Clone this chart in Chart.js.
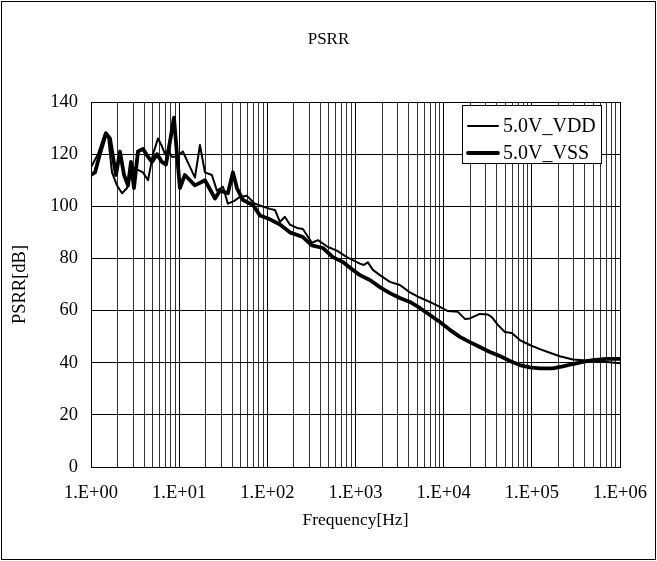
<!DOCTYPE html>
<html>
<head>
<meta charset="utf-8">
<script src="https://cdn.jsdelivr.net/npm/chart.js@4"></script>
<style>
  body { margin: 0; background: #fff; }
</style>
</head>
<body>
<canvas id="psrr" width="657" height="561"></canvas>
<script>
// values
const vddFreq = [1, 1.2, 1.44, 1.56, 1.73, 1.97, 2.25, 2.56, 2.99, 3.41, 3.89, 4.43, 5.05, 5.75, 6.38, 6.9, 7.46, 8.28, 9.44, 11.0,
  13.3, 15.1, 17.2, 19.6, 23.5, 26.8, 31.4, 35.7, 41.8, 48.9, 58.7, 72.3, 86.9, 107, 122, 139, 158, 180, 217, 253,
  320, 375, 487, 615, 799, 1037, 1122, 1245, 1382, 1575, 1891, 2455, 3186, 4140, 5370, 6980, 9060, 11160, 14490, 17400,
  19820, 25720, 31700, 35180, 41170, 49410, 59310, 73120, 94900, 123300, 160000, 207600, 291600, 454600, 708000, 1000000];
const vddDb = [115, 120, 128, 127, 113, 108, 105, 107, 115, 114, 113, 110, 120, 126, 123, 120, 121.5, 119, 119, 121,
  115, 111, 123.5, 113, 112, 106, 107.5, 101, 102, 103.6, 104, 101, 100, 99, 98.6, 94, 96, 93, 91.7, 91.3,
  86, 87, 84.4, 83, 80.5, 78.6, 78, 77.5, 78.5, 75.6, 73.6, 71, 69.8, 67, 65, 63.3, 61.4, 59.8, 59.5, 56.8,
  57, 58.7, 58.5, 57.5, 54.5, 51.8, 51.4, 48.7, 46.8, 45.2, 43.8, 42.5, 41.2, 40.8, 40.3, 39.8];

const vssFreq = [1, 1.11, 1.26, 1.48, 1.64, 1.92, 2.13, 2.37, 2.63, 2.84, 3.07, 3.41, 3.89, 4.43, 4.92, 5.6, 6.38, 7.08, 8.07, 8.73,
  9.44, 10.2, 11.6, 15.1, 19.6, 25.5, 29.0, 35.7, 40.7, 45.2, 52.9, 68.7, 82.4, 107, 139, 180, 253, 320, 427, 554,
  719, 935, 1122, 1456, 1891, 2455, 3186, 4140, 5370, 6980, 9060, 11760, 15280, 19820, 25720, 33420, 43370, 56330, 73120, 94900,
  123300, 173000, 224400, 291600, 378400, 491800, 708000, 1000000];
const vssDb = [112, 113, 120, 128, 126, 112, 121, 112, 108, 117, 107, 121, 122, 119, 117, 120, 117, 116, 127, 134,
  120, 107, 112, 108, 110, 103, 106, 105, 113, 107, 102.4, 100.5, 96.5, 95, 93, 90, 88.2, 85, 84, 80.5,
  78.6, 75.6, 73.6, 71.7, 69, 66.7, 64.8, 63.3, 61, 58.3, 55.6, 52.6, 49.9, 47.9, 46, 44.1, 42.6, 40.7, 39.1, 38.2,
  37.8, 37.8, 38.6, 39.5, 40.3, 41, 41.5, 41.5];

const seriesNames = ['5.0V_VDD', '5.0V_VSS'];
const xTickLabels = ['1.E+00', '1.E+01', '1.E+02', '1.E+03', '1.E+04', '1.E+05', '1.E+06'];
const yTicks = [0, 20, 40, 60, 80, 100, 120, 140];

const SERIF = '"Liberation Serif", "Times New Roman", serif';
const tickFont = { family: SERIF, size: 18.5 };

const toPoints = (xs, ys) => xs.map((x, i) => ({ x: x, y: ys[i] }));

// every 1..9 x 10^n for the log grid
const logTicks = [];
for (let e = 0; e < xTickLabels.length - 1; e++) {
  for (let m = 1; m <= 9; m++) logTicks.push({ value: m * Math.pow(10, e) });
}
logTicks.push({ value: Math.pow(10, xTickLabels.length - 1) });

const isDecade = v => Math.abs(Math.log10(v) - Math.round(Math.log10(v))) < 1e-9;

// outer frame
const framePlugin = {
  id: 'frame',
  beforeDraw(chart) {
    const ctx = chart.ctx;
    ctx.save();
    ctx.fillStyle = '#fff';
    ctx.fillRect(0, 0, chart.width, chart.height);
    ctx.strokeStyle = '#000';
    ctx.lineWidth = 1;
    ctx.strokeRect(1.5, 1.5, chart.width - 3, chart.height - 3);
    ctx.restore();
  }
};

// legend box inside the plot, like the original
const boxLegend = {
  id: 'boxLegend',
  afterDatasetsDraw(chart) {
    const ctx = chart.ctx;
    const area = chart.chartArea;
    const w = 139, h = 58;
    const left = area.right - 19 - w;
    const top = area.top + 3;
    ctx.save();
    ctx.fillStyle = '#fff';
    ctx.fillRect(left, top, w, h);
    ctx.strokeStyle = '#000';
    ctx.lineWidth = 1;
    ctx.strokeRect(Math.round(left) + 0.5, Math.round(top) + 0.5, w, h);
    ctx.font = '20px ' + SERIF;
    ctx.textBaseline = 'middle';
    ctx.fillStyle = '#000';
    chart.data.datasets.forEach((ds, i) => {
      const y = top + 21 + i * 27;
      ctx.strokeStyle = ds.borderColor;
      ctx.lineWidth = ds.borderWidth;
      ctx.lineCap = 'round';
      ctx.beginPath();
      ctx.moveTo(left + 6, y);
      ctx.lineTo(left + 36, y);
      ctx.stroke();
      ctx.fillText(ds.label, left + 41, y + 1);
    });
    ctx.restore();
  }
};

new Chart(document.getElementById('psrr'), {
  type: 'line',
  data: {
    datasets: [
      {
        label: seriesNames[0],
        data: toPoints(vddFreq, vddDb),
        borderColor: '#000',
        borderWidth: 2,
        borderJoinStyle: 'round',
        pointRadius: 0,
        tension: 0,
      },
      {
        label: seriesNames[1],
        data: toPoints(vssFreq, vssDb),
        borderColor: '#000',
        borderWidth: 3.8,
        borderJoinStyle: 'round',
        pointRadius: 0,
        tension: 0,
      },
    ],
  },
  options: {
    responsive: false,
    animation: false,
    layout: { padding: 0 },
    plugins: {
      legend: { display: false },
      tooltip: { enabled: false },
      title: {
        display: true,
        text: 'PSRR',
        color: '#000',
        font: { family: SERIF, size: 17, weight: 'normal' },
        padding: { top: 29.8, bottom: 51.8 },
      },
    },
    scales: {
      x: {
        type: 'logarithmic',
        min: 1,
        max: 1e6,
        afterBuildTicks: axis => { axis.ticks = logTicks.map(t => ({ value: t.value })); },
        afterFit: axis => { axis.height = 94; axis.paddingRight = 37; },
        border: { color: '#000', width: 1 },
        grid: {
          color: ctx => (ctx.tick && isDecade(ctx.tick.value)) ? '#000' : '#333',
          lineWidth: 1,
          drawTicks: false,
        },
        ticks: {
          autoSkip: false,
          maxRotation: 0,
          padding: 15,
          color: '#000',
          font: tickFont,
          callback: v => isDecade(v) ? xTickLabels[Math.round(Math.log10(v))] : '',
        },
        title: {
          display: true,
          text: 'Frequency[Hz]',
          color: '#000',
          font: { family: SERIF, size: 17.5 },
          padding: { top: 0, bottom: 30 },
        },
      },
      y: {
        min: yTicks[0],
        max: yTicks[yTicks.length - 1],
        afterBuildTicks: axis => { axis.ticks = yTicks.map(v => ({ value: v })); },
        afterFit: axis => { axis.width = 91; },
        border: { color: '#000', width: 1 },
        grid: { color: '#000', lineWidth: 1, drawTicks: false },
        ticks: { padding: 13, color: '#000', font: tickFont },
        title: {
          display: true,
          text: 'PSRR[dB]',
          color: '#000',
          font: { family: SERIF, size: 18.5 },
          padding: { top: 9, bottom: 0 },
        },
      },
    },
  },
  plugins: [framePlugin, boxLegend],
});
</script>
</body>
</html>
